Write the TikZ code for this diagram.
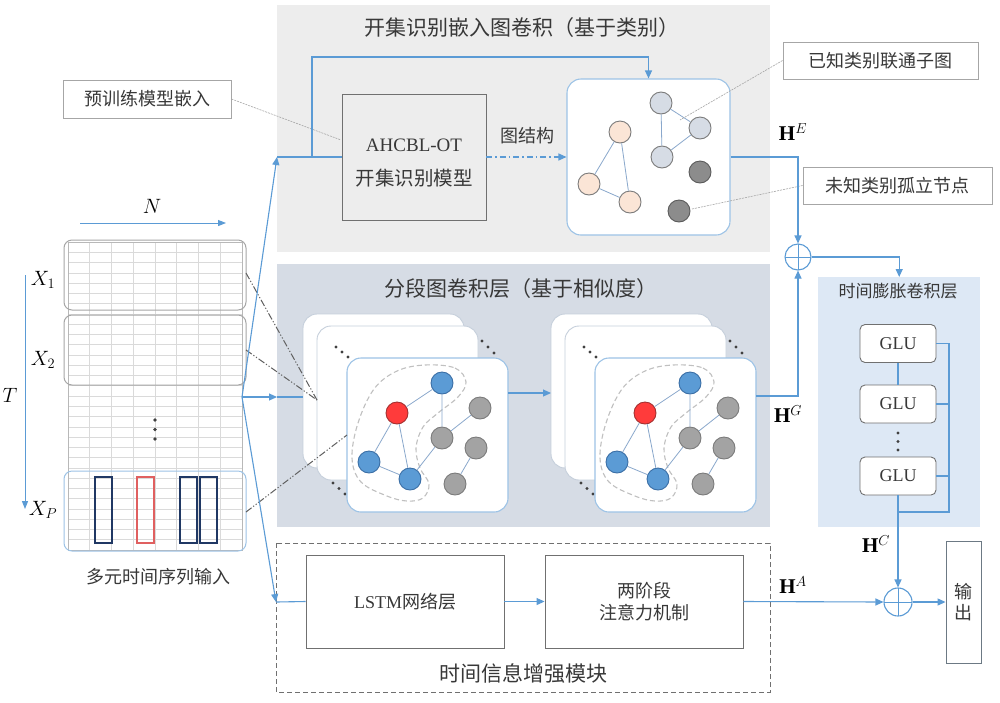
\documentclass[tikz,border=0pt]{standalone}
\usepackage{fontspec}
\setmainfont{Liberation Serif}
\newfontfamily\cjk{Noto Sans CJK SC}
\usetikzlibrary{arrows.meta,calc}
\definecolor{lb}{HTML}{5B9BD5}
\definecolor{txt}{HTML}{383838}
\definecolor{gbord}{HTML}{707070}
\definecolor{topp}{HTML}{EDEDED}
\definecolor{midp}{HTML}{D6DCE5}
\definecolor{rpc}{HTML}{DDE8F5}
\definecolor{cardb}{HTML}{9DC3E6}
\definecolor{backb}{HTML}{C5CFDB}
\definecolor{gridc}{HTML}{DADADA}
\definecolor{xbox}{HTML}{A6A6A6}
\definecolor{navy}{HTML}{203864}
\definecolor{redr}{HTML}{E06060}
\definecolor{bnf}{HTML}{5B9BD5}
\definecolor{bnd}{HTML}{3A6EA5}
\definecolor{rnf}{HTML}{FF3B3B}
\definecolor{rnd}{HTML}{A33030}
\definecolor{gnf}{HTML}{A3A3A3}
\definecolor{gnd}{HTML}{7A7A7A}
\definecolor{pnf}{HTML}{FBE5D6}
\definecolor{lnf}{HTML}{D6DCE5}
\definecolor{dnf}{HTML}{8C8C8C}
\definecolor{dnd}{HTML}{5A5A5A}
\definecolor{edgec}{HTML}{8AA8CC}
\definecolor{dotc}{HTML}{404040}
\definecolor{dashg}{HTML}{C0C0C0}
\definecolor{ddg}{HTML}{606060}
\newcommand\fsz[1]{\fontsize{#1}{#1}\selectfont}
\tikzset{
  bl/.style={draw=lb,line width=1.1pt},
  arr/.style={-{Triangle[length=8pt,width=7pt]}},
  box/.style={draw=gbord,line width=0.9pt,inner sep=0pt,text=txt},
  callout/.style={draw=xbox,line width=0.9pt,fill=white,inner sep=0pt,text=txt,font=\cjk\fsz{18}},
  leader/.style={draw=gray!70,line width=0.6pt,dash pattern=on 2pt off 1pt},
  glubox/.style={draw=gbord,fill=white,line width=0.9pt,rounded corners=5pt,minimum width=76pt,minimum height=38pt,inner sep=0pt,font=\fsz{18},text=txt},
  osum/.style={circle,draw=lb,line width=1.1pt,minimum size=26pt,inner sep=0pt,
    path picture={\draw[lb,line width=1pt] (path picture bounding box.north) -- (path picture bounding box.south) (path picture bounding box.west) -- (path picture bounding box.east);}},
  nd/.style={circle,minimum size=22pt,inner sep=0pt,line width=0.9pt},
  bn/.style={nd,fill=bnf,draw=bnd},
  rn/.style={nd,fill=rnf,draw=rnd},
  gn/.style={nd,fill=gnf,draw=gnd},
  pn/.style={nd,fill=pnf,draw=gnd},
  ln/.style={nd,fill=lnf,draw=gnd},
  dn/.style={nd,fill=dnf,draw=dnd},
  ge/.style={draw=edgec,line width=0.8pt},
  backcard/.style={fill=white,draw=backb,line width=0.9pt,rounded corners=14pt},
  frontcard/.style={fill=white,draw=cardb,line width=1.1pt,rounded corners=14pt},
  dcont/.style={draw=dashg,line width=1.1pt,dash pattern=on 5pt off 3pt},
  ddash/.style={draw=ddg,line width=1pt,dash pattern=on 7pt off 2pt on 1.2pt off 2pt on 1.2pt off 2pt},
  mtxt/.style={text=black,font=\fsz{21}},
  htxt/.style={text=black,font=\fsz{21}},
}
\newcommand\midgraph[3]{%
\begin{scope}[shift={(#1,#2)}]
\draw[backcard] (-44,-44) rectangle ++(161,154);
\draw[backcard] (-30,-32) rectangle ++(161,154);
\fill[dotc] (-11,-11) circle (1.6pt) (-5,-6) circle (1.6pt) (1,-1) circle (1.6pt);
\fill[dotc] (135,-17) circle (1.6pt) (141,-11) circle (1.6pt) (147,-5) circle (1.6pt);
\fill[dotc] (-14,125) circle (1.6pt) (-8,130.5) circle (1.6pt) (-2,136) circle (1.6pt);
\draw[frontcard] (0,0) rectangle (161,154);
\draw[dcont] plot[smooth cycle,tension=0.6] coordinates {(78,7) (108,10) (119,24) (111,39) (91,55) (76,69) (69,90) (73,110) (82,126) (76,140) (60,143) (40,138) (14,124) (5,100) (11,65) (27,31) (50,13)};
\node[bn] (#3a) at (95,25) {};
\node[rn] (#3b) at (50,55) {};
\node[gn] (#3c) at (133,50) {};
\node[gn] (#3d) at (95,80) {};
\node[gn] (#3e) at (129,90) {};
\node[bn] (#3f) at (22,104) {};
\node[bn] (#3g) at (63,121) {};
\node[gn] (#3h) at (108,126) {};
\draw[ge] (#3a)--(#3b) (#3a)--(#3d) (#3b)--(#3f) (#3b)--(#3g) (#3f)--(#3g) (#3g)--(#3d) (#3d)--(#3c) (#3e)--(#3h);
\end{scope}}
\begin{document}
\begin{tikzpicture}[x=1pt,y=-1pt]
\useasboundingbox (0,0) rectangle (1000,702);
\fill[white] (0,0) rectangle (1000,702);
% panels
\fill[topp] (277,5) rectangle (770,252);
\fill[midp] (277,264) rectangle (770,527);
\node[fill=rpc,minimum width=162pt,minimum height=250pt,inner sep=0pt,anchor=north west] (rpanel) at (818,277) {};
\draw[gbord,line width=0.8pt,dash pattern=on 5pt off 3pt] (276,543) rectangle (770,692);
% titles
\node[text=txt,font=\cjk\fsz{21}] (t1) at (522,28) {开集识别嵌入图卷积（基于类别）};
\node[text=txt,font=\cjk\fsz{21}] (t2) at (521,289) {分段图卷积层（基于相似度）};
\node[text=txt,font=\cjk\fsz{17}] (t3) at (898,291) {时间膨胀卷积层};
\node[text=txt,font=\cjk\fsz{21}] (t4) at (523,673) {时间信息增强模块};
% left grid
\foreach \i in {0,...,8} \draw[gridc,line width=0.6pt] ({68+\i*21.75},242) -- ({68+\i*21.75},550);
\foreach \j in {0,...,30} \draw[gridc,line width=0.6pt] (68,{242+\j*10.267}) -- (242,{242+\j*10.267});
\draw[xbox!80,line width=0.8pt] (68,242) rectangle (242,550);
\draw[xbox,line width=1pt,rounded corners=8pt] (64,240) rectangle (246,310);
\draw[xbox,line width=1pt,rounded corners=8pt] (64,315) rectangle (246,385);
\draw[cardb,line width=1pt,rounded corners=8pt] (64,471) rectangle (246,551);
\fill[dotc] (155,420) circle (1.8pt) (155,429.5) circle (1.8pt) (155,439) circle (1.8pt);
\draw[navy,line width=1.3pt] (95,477) rectangle (112,543);
\draw[redr,line width=1.3pt] (137,477) rectangle (154,543);
\draw[navy,line width=1.3pt] (180,477) rectangle (197,543);
\draw[navy,line width=1.3pt] (200,477) rectangle (217,543);
\node[mtxt] (lx1) at (43,280) {$X_1$};
\node[mtxt] (lx2) at (43,360) {$X_2$};
\node[mtxt] (lxp) at (43,510) {$X_P$};
\node[mtxt] (lt) at (10,395) {$T$};
\node[mtxt] (ln) at (152,206) {$N$};
\coordinate (na) at (80,223); \coordinate (nb) at (226,223);
\draw[draw=lb,line width=1pt,-{Triangle[length=8pt,width=6pt]}] (na) -- (nb);
\coordinate (ta) at (25,275); \coordinate (tb) at (25,509);
\draw[draw=lb,line width=1pt,-{Triangle[length=8pt,width=6pt]}] (ta) -- (tb);
\node[text=txt,font=\cjk\fsz{18}] (lin) at (158,577) {多元时间序列输入};
% top panel boxes
\node[box,fill=topp,minimum width=144pt,minimum height=126pt] (ahcbl) at (414,157) {};
\node[text=txt,font=\fsz{19}] (ah1) at (414,145) {AHCBL-OT};
\node[text=txt,font=\cjk\fsz{19.5}] (ah2) at (414,178) {开集识别模型};
\node[frontcard,minimum width=163pt,minimum height=156pt,inner sep=0pt] (gcard) at (648.5,157) {};
\node[text=txt,font=\cjk\fsz{18}] (gs) at (527,136) {图结构};
% top graph
\node[pn] (p1) at (620,132) {};
\node[pn] (p2) at (589,184) {};
\node[pn] (p3) at (630,202) {};
\node[ln] (q1) at (661,103) {};
\node[ln] (q2) at (700,128) {};
\node[ln] (q3) at (662,157) {};
\node[dn] (r1) at (700,172) {};
\node[dn] (r2) at (679,211) {};
\draw[ge] (p1)--(p2) (p1)--(p3) (p2)--(p3) (q1)--(q2) (q1)--(q3) (q3)--(q2);
% callouts
\node[callout,minimum width=168pt,minimum height=38pt] (c1) at (147,99) {预训练模型嵌入};
\node[callout,minimum width=195pt,minimum height=37pt] (c2) at (880.5,60.5) {已知类别联通子图};
\node[callout,minimum width=189pt,minimum height=37pt] (c3) at (897.5,185.5) {未知类别孤立节点};
\coordinate (c1e) at (341,140);
\coordinate (c2e) at (680,120);
\coordinate (c3e) at (692,209);
\draw[leader] (c1.east) -- (c1e);
\draw[leader] (c2.west) -- (c2e);
\draw[leader] (c3.west) -- (c3e);
% middle stacks
\midgraph{347}{358}{L}
\midgraph{595}{358}{R}
% dash-dot lines from X boxes
\coordinate (x1r) at (246,273); \coordinate (x2r) at (246,350); \coordinate (xpr) at (246,512);
\coordinate (d1) at (317,400); \coordinate (d2) at (347,435);
\draw[ddash] (x1r) -- (d1);
\draw[ddash] (x2r) -- (d1);
\draw[ddash] (xpr) -- (d2);
% fan from input
\coordinate (fo) at (242,397);
\coordinate (ft) at (277,157);
\coordinate (fm) at (277,397);
\coordinate (fb) at (276,602);
\coordinate (lb1) at (303,397);
\draw[bl,arr] (fo) -- (ft);
\draw[bl] (ft) -- (ahcbl.west);
\draw[bl,arr] (fo) -- (fm);
\draw[bl] (fm) -- (lb1);
\draw[bl,arr] (fo) -- (fb);
% bottom boxes
\node[box,minimum width=198pt,minimum height=93pt,font=\fsz{18}] (lstm) at (405,601.5) {LSTM{\cjk 网络层}};
\node[box,minimum width=198pt,minimum height=93pt,font=\cjk\fsz{18},align=center] (att) at (644,601.5) {两阶段\\[4pt]注意力机制};
\node[box,draw=gbord!80!lb,minimum width=35pt,minimum height=122pt,font=\cjk\fsz{18},align=center] (out) at (963.5,602) {输\\[3pt]出};
\draw[bl] (fb) -- (lstm.west);
% top connectors
\coordinate (fbk) at (312,157);
\draw[bl,arr] (fbk) -- ++(0,-100) -| (gcard.north);
\draw[draw=lb,line width=1.1pt,dash pattern=on 6pt off 3pt on 1.5pt off 3pt,-{Triangle[length=8pt,width=7pt]}] (ahcbl.east) -- (gcard.west);
% sums
\node[osum] (sum1) at (798,257) {};
\node[osum,minimum size=28pt] (sum2) at (898,602) {};
\draw[bl,arr] (gcard.east) -| (sum1.north);
\coordinate (la) at (508,393); \coordinate (lbb) at (551,393);
\draw[bl,arr] (la) -- (lbb);
\coordinate (hg) at (756,396);
\draw[bl,arr] (hg) -| (sum1.south);
\draw[bl,arr] (sum1.east) -| (rpanel.north);
% labels
\node[htxt] (hE) at (793,132) {$\mathbf{H}^{E}$};
\node[htxt] (hG) at (788,414) {$\mathbf{H}^{G}$};
\node[htxt] (hC) at (876,544) {$\mathbf{H}^{C}$};
\node[htxt] (hA) at (793,585) {$\mathbf{H}^{A}$};
% GLU
\node[glubox] (g1) at (898,343.5) {GLU};
\node[glubox] (g2) at (898,404) {GLU};
\node[glubox] (g3) at (898,476) {GLU};
\fill[dotc] (898,433) circle (1.6pt) (898,441.5) circle (1.6pt) (898,450) circle (1.6pt);
\coordinate (br1) at (949,343.5); \coordinate (br2) at (949,404); \coordinate (br3) at (949,476);
\coordinate (brb) at (949,512); \coordinate (brc) at (898,512);
\draw[bl] (g1.south) -- (g2.north);
\draw[bl] (g1.east) -- (br1) -- (brb) -- (brc);
\draw[bl] (g2.east) -- (br2);
\draw[bl] (g3.east) -- (br3);
\draw[bl,arr] (g3.south) -- (sum2.north);
% bottom connectors
\draw[bl,arr] (lstm.east) -- (att.west);
\draw[bl,arr] (att.east) -- (sum2.west);
\draw[bl,arr] (sum2.east) -- (out.west);
\end{tikzpicture}
\end{document}
